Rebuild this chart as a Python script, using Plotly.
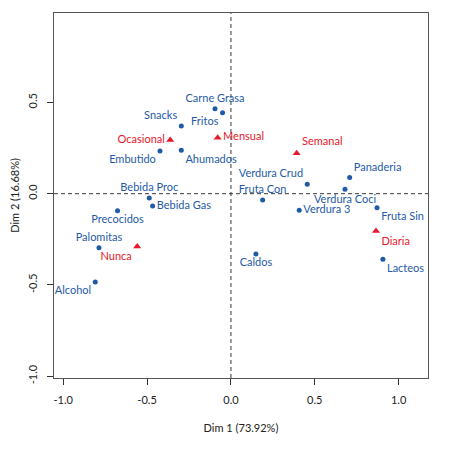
import plotly.graph_objects as go

# filas (alimentos) y columnas (frecuencia) del analisis de correspondencias
foods = ["Carne Grasa", "Fritos", "Snacks", "Embutido", "Ahumados", "Bebida Proc",
         "Bebida Gas", "Precocidos", "Palomitas", "Alcohol", "Panaderia", "Verdura Crud",
         "Verdura Coci", "Fruta Con", "Verdura 3", "Fruta Sin", "Caldos", "Lacteos"]
food_x = [-0.095, -0.05, -0.296, -0.423, -0.296, -0.487, -0.467, -0.676, -0.787, -0.809,
          0.708, 0.455, 0.68, 0.189, 0.407, 0.871, 0.149, 0.906]
food_y = [0.466, 0.444, 0.371, 0.234, 0.238, -0.024, -0.067, -0.093, -0.296, -0.484,
          0.088, 0.051, 0.024, -0.034, -0.091, -0.077, -0.33, -0.359]
food_pos = ["top center", "bottom left", "top left", "bottom left", "bottom right",
            "top center", "middle right", "bottom center", "top center", "bottom left",
            "top right", "top left", "bottom center", "top center", "middle right",
            "bottom right", "bottom center", "bottom right"]

freqs = ["Ocasional", "Mensual", "Semanal", "Nunca", "Diaria"]
freq_x = [-0.362, -0.079, 0.392, -0.559, 0.865]
freq_y = [0.294, 0.307, 0.221, -0.29, -0.204]
freq_pos = ["middle left", "middle right", "top right", "bottom left", "bottom right"]

ticks = [-1.0, -0.5, 0.0, 0.5, 1.0]
tick_text = ["-1.0", "-0.5", "0.0", "0.5", "1.0"]

BLUE = "#1f5aa6"
RED = "#e8172b"
FONT = "Lato"

# etiqueta que va pegada a su punto (si no choca con "Verdura 3")
tight = "Verdura Coci"
k = foods.index(tight)
food_text = ["" if f == tight else f for f in foods]

fig = go.Figure()
fig.add_trace(go.Scatter(
    x=food_x, y=food_y, text=food_text, mode="markers+text", textposition=food_pos,
    marker=dict(color=BLUE, size=5), textfont=dict(color=BLUE, size=11, family=FONT),
    cliponaxis=False, showlegend=False))
fig.add_annotation(x=food_x[k], y=food_y[k], text=tight, showarrow=False,
                   yanchor="top", yshift=-1, font=dict(color=BLUE, size=11, family=FONT))
fig.add_trace(go.Scatter(
    x=freq_x, y=freq_y, text=freqs, mode="markers+text", textposition=freq_pos,
    marker=dict(color=RED, size=7, symbol="triangle-up"),
    textfont=dict(color=RED, size=11, family=FONT),
    cliponaxis=False, showlegend=False))

# ejes de referencia en el origen
fig.add_hline(y=0, line=dict(color="#222", width=0.9, dash="4px,3px"), layer="below")
fig.add_vline(x=0, line=dict(color="#222", width=0.9, dash="4px,3px"), layer="below")

axis_common = dict(
    tickmode="array", tickvals=ticks, ticktext=tick_text,
    ticks="outside", ticklen=6, tickcolor="#333", showgrid=False, zeroline=False,
    showline=True, linecolor="#555", linewidth=1.2, mirror=True,
    tickfont=dict(size=11, family=FONT, color="#222"),
)
fig.update_xaxes(range=[-1.055, 1.175], ticklabelstandoff=6,
                 title=dict(text="Dim 1 (73.92%)", standoff=19,
                            font=dict(size=11, family=FONT, color="#222")), **axis_common)
fig.update_yaxes(range=[-1.01, 0.99], tickangle=-90, ticklabelstandoff=6,
                 title=dict(text="Dim 2 (16.68%)", standoff=14,
                            font=dict(size=11, family=FONT, color="#222")), **axis_common)

# la pagina deja 8px de margen en el body
fig.update_layout(
    width=446, height=442,
    margin=dict(l=46, r=26, t=5, b=72, autoexpand=False),
    plot_bgcolor="white", paper_bgcolor="white",
    font=dict(family=FONT),
)

fig.write_html("out.html")
